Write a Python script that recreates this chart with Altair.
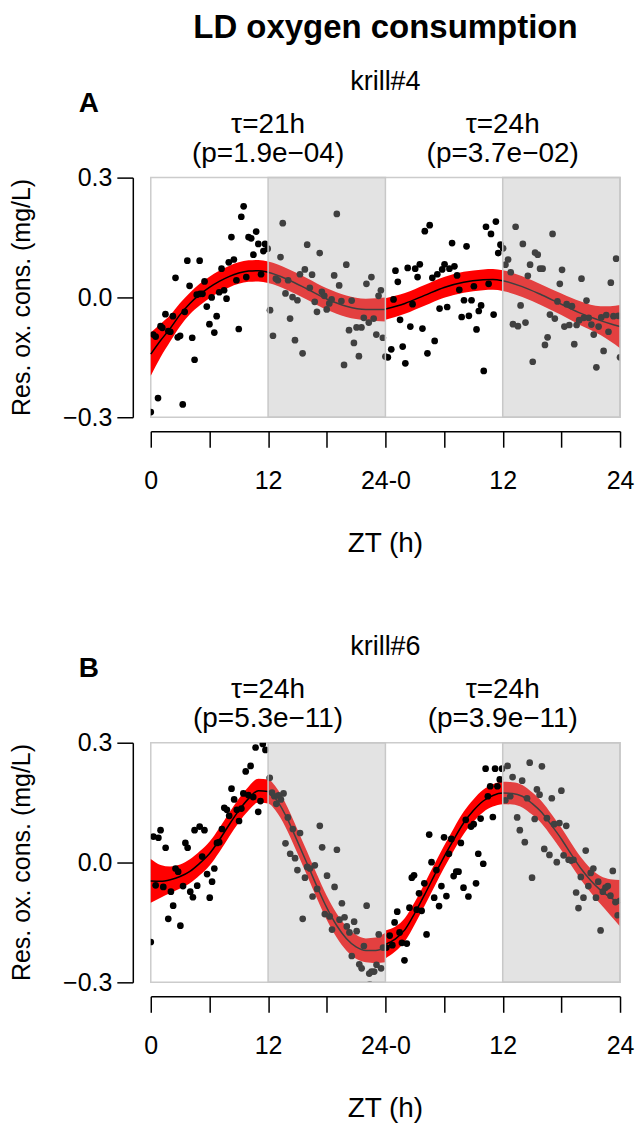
import altair as alt
import pandas as pd

FONT = "Liberation Sans"

# ---------------- Panel A (krill#4) observations ----------------
A_hours = [0.0, 0.74, 3.27, 0.24, 0.5, 1.0, 1.18, 1.5, 1.8, 2.0, 2.26, 2.53, 2.76, 3.0, 3.47, 3.74, 3.97, 4.24, 4.48, 4.7,
           5.0, 5.05, 5.29, 5.5, 5.73, 6.0, 6.23, 6.5, 6.74, 7.0, 7.24, 7.5, 7.75, 7.98, 8.25, 8.5, 8.76, 9.0, 9.26, 9.5,
           9.77, 10.0, 10.27, 10.5, 10.78, 11.0, 11.28, 11.52, 11.69, 11.96,
           12.2, 12.5, 12.8, 13.0, 13.27, 13.5, 13.78, 14.05, 14.25, 14.5, 14.75, 15.0, 15.26, 15.53, 15.76, 16.0, 16.27,
           16.5, 16.77, 17.0, 17.28, 17.5, 17.75, 18.0, 18.26, 18.5, 18.76, 19.03, 19.27, 19.5, 19.77, 20.0, 20.28, 20.55,
           20.78, 21.05, 21.29, 21.55, 21.79, 22.06, 22.3, 22.57, 22.8, 23.07, 23.3, 23.54, 23.74, 24.0,
           24.25, 24.6, 24.83, 25.03, 25.27, 25.5, 25.77, 26.04, 26.28, 26.55, 26.78, 27.05, 27.29, 27.52, 27.79, 28.03,
           28.3, 28.53, 28.8, 29.04, 29.31, 29.54, 29.81, 30.05, 30.32, 30.55, 30.82, 31.06, 31.33, 31.56, 31.8, 32.04,
           32.3, 32.54, 32.81, 33.05, 33.32, 33.55, 33.79, 34.06, 34.29, 34.56, 34.8, 35.07, 35.3, 35.54, 35.77,
           36.04, 36.28, 36.55, 36.82, 37.05, 37.32, 37.56, 37.83, 38.06, 38.33, 38.57, 38.8, 39.07, 39.31, 39.58, 39.82,
           40.08, 40.32, 40.59, 40.83, 41.1, 41.33, 41.6, 41.84, 42.07, 42.31, 42.54, 42.81, 43.08, 43.32, 43.56, 43.82,
           44.06, 44.3, 44.57, 44.8, 45.07, 45.31, 45.58, 45.81, 46.08, 46.32, 46.59, 46.82, 47.06, 47.33, 47.6, 47.83, 48.0]
A_values = [-0.287, -0.252, -0.268, -0.093, -0.098, -0.072, -0.076, -0.042, -0.084, -0.086, -0.047, 0.049, -0.100, -0.096,
            -0.036, 0.092, 0.029, -0.101, -0.156, 0.007, 0.092, 0.009, 0.009, 0.040, -0.023, -0.067, 0.000, -0.088, -0.047,
            0.013, 0.072, 0.018, -0.003, 0.088, 0.151, 0.095, 0.043, -0.079, 0.202, 0.228, 0.051, 0.151, 0.148, 0.107,
            0.165, 0.134, 0.058, 0.116, 0.134, 0.122,
            -0.032, -0.096, 0.047, 0.043, 0.101, 0.186, 0.010, 0.043, -0.053, 0.001, -0.107, -0.007, 0.058, -0.140, 0.070,
            0.132, 0.024, 0.057, -0.011, -0.036, 0.111, 0.014, 0.004, -0.030, -0.015, -0.005, 0.055, 0.209, 0.030, -0.009,
            -0.169, 0.082, -0.082, -0.008, -0.114, -0.075, -0.147, -0.075, -0.051, 0.034, -0.063, 0.051, -0.053, -0.093,
            0.004, 0.018, -0.101, -0.148,
            -0.150, -0.130, -0.005, 0.067, 0.039, -0.056, -0.123, -0.165, 0.074, -0.073, -0.017, 0.072, 0.051, 0.083,
            -0.078, 0.166, -0.140, 0.181, 0.049, -0.109, 0.058, -0.028, 0.070, 0.083, -0.024, 0.072, 0.136, 0.078, 0.055,
            0.019, -0.049, -0.007, 0.128, -0.046, -0.007, 0.028, -0.080, -0.034, -0.020, -0.184, 0.177, 0.034, 0.159,
            -0.043, 0.190, 0.111, 0.132,
            0.123, 0.082, 0.095, 0.063, -0.067, 0.177, -0.072, -0.020, 0.134, -0.063, 0.054, 0.082, -0.161, 0.112, 0.107,
            0.072, 0.072, -0.119, -0.100, -0.043, 0.159, -0.053, -0.010, 0.034, 0.069, -0.073, -0.017, -0.069, -0.022,
            -0.117, -0.069, -0.057, 0.047, -0.051, -0.008, -0.051, -0.068, -0.093, -0.175, -0.073, -0.050, -0.134, -0.044,
            -0.086, 0.037, -0.047, 0.097, -0.046, -0.150]

# fitted curve and confidence half-width, panel A
A_fitL_h = [0, 1, 2, 3, 4, 5, 6, 7, 8, 9, 10, 11, 12, 14, 16, 18, 20, 22, 24]
A_fitL_v = [-0.142, -0.108, -0.077, -0.043, -0.015, 0.007, 0.025, 0.040, 0.052, 0.061, 0.066, 0.067, 0.063, 0.045,
            0.021, -0.004, -0.022, -0.030, -0.030]
A_fitL_w = [0.054, 0.042, 0.033, 0.029, 0.027, 0.027, 0.027, 0.027, 0.027, 0.027, 0.027, 0.027, 0.027, 0.027, 0.027,
            0.027, 0.027, 0.027, 0.030]
A_fitR_h = [24, 26, 28, 30, 32, 34, 35, 36, 38, 40, 42, 44, 46, 47, 48]
A_fitR_v = [-0.029, -0.015, 0.005, 0.025, 0.038, 0.044, 0.045, 0.042, 0.027, 0.006, -0.017, -0.040, -0.058, -0.066,
            -0.073]
A_fitR_w = [0.027, 0.026, 0.026, 0.026, 0.026, 0.026, 0.026, 0.026, 0.026, 0.026, 0.027, 0.030, 0.036, 0.044, 0.054]

# ---------------- Panel B (krill#6) observations ----------------
B_hours = [0.0, 0.27, 0.78, 1.0, 0.5, 1.28, 1.52, 1.79, 2.06, 2.29, 2.53, 2.8, 3.03, 3.3, 3.54, 3.77, 4.04, 4.31, 4.48,
           4.75, 5.0, 5.26, 5.49, 5.76, 6.03, 6.27, 6.5, 6.77, 7.0, 7.28, 7.52, 7.79, 8.02, 8.26, 8.53, 8.8, 9.03, 9.27,
           9.47, 9.71, 9.98, 10.21, 10.48, 10.72, 10.99, 11.22, 11.46, 11.73,
           12.17, 12.4, 12.64, 12.84, 13.08, 13.31, 13.58, 13.78, 14.02, 14.26, 14.53, 14.76, 15.0, 15.27, 15.54, 15.77,
           16.0, 16.28, 16.55, 16.78, 17.02, 17.29, 17.53, 17.8, 18.03, 18.3, 18.54, 18.8, 19.04, 19.31, 19.55, 19.82,
           20.05, 20.32, 20.56, 20.8, 21.06, 21.33, 21.57, 21.8, 22.08, 22.35, 22.58, 22.85, 23.09, 23.32, 23.56, 23.76,
           22.4,
           24.1, 24.44, 24.71, 24.94, 25.21, 25.45, 25.69, 25.95, 26.19, 26.46, 26.7, 26.93, 27.2, 27.44, 27.71, 27.98,
           28.21, 28.48, 28.72, 28.99, 29.22, 29.49, 29.73, 30.0, 30.24, 30.5, 30.74, 30.98, 31.25, 31.48, 31.72, 31.99,
           32.22, 32.49, 32.76, 33.03, 33.27, 33.5, 33.74, 34.01, 34.25, 34.48, 34.72, 34.99, 35.22, 35.46, 35.7, 35.93,
           36.27, 36.5, 36.77, 37.01, 37.48, 37.75, 37.99, 38.26, 38.49, 38.76, 39.0, 39.27, 39.5, 39.77, 40.01, 40.25,
           40.52, 40.78, 41.02, 41.26, 41.53, 41.8, 42.0, 42.23, 42.5, 42.74, 43.0, 43.24, 43.51, 43.75, 43.99, 44.26,
           44.49, 44.76, 45.0, 45.27, 45.54, 45.77, 46.01, 46.24, 46.51, 46.75, 47.02, 47.26, 47.53, 47.76, 48.0]
B_values = [-0.199, 0.065, 0.062, 0.081, -0.057, -0.061, 0.037, -0.141, -0.073, -0.108, -0.015, -0.023, -0.158, -0.059,
            0.049, 0.037, -0.073, -0.087, 0.081, -0.058, 0.090, 0.015, 0.081, -0.029, -0.088, -0.048, -0.015, 0.049,
            0.051, 0.084, 0.137, 0.132, 0.117, 0.185, 0.158, 0.132, 0.104, 0.135, 0.173, 0.228, 0.169, 0.242, 0.164,
            0.288, 0.127, 0.154, 0.297, 0.282,
            0.212, 0.175, 0.166, 0.147, 0.168, 0.158, 0.173, 0.048, 0.113, 0.022, 0.084, 0.011, -0.019, 0.074, -0.141,
            -0.038, -0.011, -0.015, -0.085, -0.007, -0.066, 0.092, 0.038, -0.129, -0.033, -0.135, -0.168, -0.061, 0.032,
            -0.143, -0.102, -0.137, -0.160, -0.175, -0.234, -0.148, -0.172, -0.255, -0.265, -0.209, -0.108, -0.278,
            -0.273, -0.273, -0.256, -0.180, -0.265, -0.213,
            -0.305,
            -0.213, -0.183, -0.207, -0.150, -0.123, -0.175, -0.201, -0.245, -0.203, -0.113, -0.038, -0.032, -0.118,
            -0.077, -0.121, -0.052, -0.180, 0.070, 0.001, -0.088, -0.019, -0.109, -0.059, 0.063, -0.084, 0.022, 0.059,
            -0.034, -0.023, -0.023, 0.049, -0.063, 0.107, -0.085, 0.090, 0.096, -0.052, 0.022, 0.110, -0.003, 0.235,
            0.166, 0.191, 0.114, 0.235, 0.191, 0.208, 0.235,
            0.156, 0.242, 0.166, 0.214, 0.113, 0.081, 0.205, 0.051, 0.161, 0.250, -0.038, 0.109, 0.183, 0.170, 0.241,
            0.034, 0.111, 0.019, 0.161, 0.096, 0.001, 0.099, 0.180, 0.018, 0.092, 0.007, 0.005, 0.007, -0.075, -0.114,
            -0.036, -0.088, 0.030, -0.059, -0.026, -0.015, -0.088, -0.048, -0.170, -0.073, -0.063, -0.059, -0.083,
            -0.021, -0.099, -0.132, -0.096]

B_fitL_h = list(range(0, 25))
B_fitL_v = [-0.046, -0.047, -0.043, -0.035, -0.022, -0.002, 0.022, 0.056, 0.094, 0.130, 0.160, 0.180, 0.178, 0.152,
            0.108, 0.053, -0.003, -0.060, -0.113, -0.157, -0.190, -0.211, -0.220, -0.220, -0.213]
B_fitL_w = [0.055, 0.041, 0.033, 0.030, 0.030, 0.030, 0.030, 0.030, 0.030, 0.030, 0.030, 0.030, 0.030, 0.030, 0.030,
            0.030, 0.030, 0.030, 0.030, 0.030, 0.030, 0.030, 0.030, 0.032, 0.037]
B_fitR_h = list(range(24, 49))
B_fitR_v = [-0.205, -0.192, -0.168, -0.127, -0.081, -0.033, 0.014, 0.058, 0.099, 0.130, 0.154, 0.168, 0.174, 0.173,
            0.166, 0.148, 0.125, 0.093, 0.059, 0.021, -0.015, -0.045, -0.069, -0.087, -0.102]
B_fitR_w = [0.035, 0.031, 0.029, 0.028, 0.028, 0.028, 0.028, 0.028, 0.028, 0.028, 0.028, 0.028, 0.028, 0.028, 0.028,
            0.028, 0.028, 0.028, 0.028, 0.028, 0.028, 0.030, 0.035, 0.045, 0.058]

dark_start = [12, 36]
dark_end = [24, 48]
x_tick_values = [0, 6, 12, 18, 24, 30, 36, 42, 48]
y_tick_values = [-0.3, 0.0, 0.3]

W, H = 470, 240

x_axis = alt.Axis(values=x_tick_values, title=None, offset=14, grid=False,
                  labelExpr="datum.value==0?'0':datum.value==12?'12':datum.value==24?'24-0':"
                            "datum.value==36?'12':datum.value==48?'24':''",
                  labelPadding=21, labelFlush=False, labelOverlap=False, labelFontSize=25)
y_axis = alt.Axis(values=y_tick_values, title=None, offset=18, grid=False,
                  labelExpr="replace(format(datum.value,'.1f'),'-','\u2212')",
                  labelPadding=5, labelBaseline="middle", labelFlush=False, labelOverlap=False, labelFontSize=25)
xs = alt.Scale(domain=[0, 48], nice=False, zero=False)
ys = alt.Scale(domain=[-0.3, 0.3], nice=False, zero=False)


def panel(ph, pv, lh, lv, lw, rh, rv, rw, krill, letter, labs, main=None):
    pts = pd.DataFrame({"h": ph, "v": pv})
    fit = pd.DataFrame({
        "h": lh + rh,
        "v": lv + rv,
        "lo": [a - b for a, b in zip(lv, lw)] + [a - b for a, b in zip(rv, rw)],
        "hi": [a + b for a, b in zip(lv, lw)] + [a + b for a, b in zip(rv, rw)],
        "seg": ["L"] * len(lh) + ["R"] * len(rh),
    })
    X = alt.X("h:Q", scale=xs, axis=x_axis)
    band = alt.Chart(fit).mark_area(color="#ff0000", interpolate="monotone").encode(
        x=X, y=alt.Y("lo:Q", scale=ys, axis=y_axis), y2="hi:Q", detail="seg:N")
    line = alt.Chart(fit).mark_line(color="black", strokeWidth=1.5, interpolate="monotone").encode(
        x=X, y=alt.Y("v:Q", scale=ys, axis=y_axis), detail="seg:N")
    dots = alt.Chart(pts).mark_circle(size=45, color="black", opacity=1, clip=True).encode(
        x=X, y=alt.Y("v:Q", scale=ys, axis=y_axis))
    rect_df = pd.DataFrame({"h": dark_start, "h1": dark_end, "lo": [-0.3, -0.3], "hi": [0.3, 0.3]})
    shade = alt.Chart(rect_df).mark_rect(fill="#b2b2b2", fillOpacity=0.36, stroke="#c8c8c8",
                                         strokeWidth=1.5).encode(
        x=X, x2="h1:Q", y=alt.Y("lo:Q", scale=ys, axis=y_axis), y2="hi:Q")

    lab_df = pd.DataFrame({"h": [12, 36, 12, 36], "t": labs, "row": [0, 0, 1, 1]})
    tau = alt.Chart(lab_df[lab_df.row == 0]).mark_text(font=FONT, fontSize=28, baseline="alphabetic").encode(
        x=X, y=alt.value(-45), text="t:N")
    pv_ = alt.Chart(lab_df[lab_df.row == 1]).mark_text(font=FONT, fontSize=28, baseline="alphabetic").encode(
        x=X, y=alt.value(-16), text="t:N")
    kr = alt.Chart(pd.DataFrame({"h": [24], "t": [krill]})).mark_text(
        font=FONT, fontSize=27, baseline="alphabetic").encode(x=X, y=alt.value(-88), text="t:N")
    let = alt.Chart(pd.DataFrame({"t": [letter]})).mark_text(
        font=FONT, fontSize=28, fontWeight="bold", baseline="alphabetic").encode(
        x=alt.value(-62), y=alt.value(-66), text="t:N")
    yt = alt.Chart(pd.DataFrame({"t": ["Res. ox. cons. (mg/L)"]})).mark_text(
        font=FONT, fontSize=25, angle=270, baseline="alphabetic").encode(
        x=alt.value(-121), y=alt.value(H / 2), text="t:N")
    xt = alt.Chart(pd.DataFrame({"h": [24], "t": ["ZT (h)"]})).mark_text(
        font=FONT, fontSize=28, baseline="middle").encode(x=X, y=alt.value(H + 127), text="t:N")
    layers = [band, line, dots, shade, tau, pv_, kr, let, yt, xt]
    if main:
        mt = alt.Chart(pd.DataFrame({"h": [24], "t": [main]})).mark_text(
            font=FONT, fontSize=33, fontWeight="bold", baseline="alphabetic").encode(
            x=X, y=alt.value(-140), text="t:N")
        layers.append(mt)
    return alt.layer(*layers).properties(width=W, height=H)


pA = panel(A_hours, A_values, A_fitL_h, A_fitL_v, A_fitL_w, A_fitR_h, A_fitR_v, A_fitR_w,
           "krill#4", "A", ["\u03c4=21h", "\u03c4=24h", "(p=1.9e\u221204)", "(p=3.7e\u221202)"],
           main="LD oxygen consumption")
pB = panel(B_hours, B_values, B_fitL_h, B_fitL_v, B_fitL_w, B_fitR_h, B_fitR_v, B_fitR_w,
           "krill#6", "B", ["\u03c4=24h", "\u03c4=24h", "(p=5.3e\u221211)", "(p=3.9e\u221211)"])

chart = alt.vconcat(pA, pB, spacing=326, bounds="flush").properties(
    padding={"left": 1, "top": 2, "right": 1, "bottom": 0}
).configure(font=FONT).configure_view(
    stroke="#cccccc", strokeWidth=1.5
).configure_axis(
    labelFont=FONT, labelColor="black", tickColor="black", domainColor="black",
    tickSize=16, tickWidth=1.5, domainWidth=1.5
)

chart.save("out.html", embed_options={"renderer": "svg", "actions": False})
